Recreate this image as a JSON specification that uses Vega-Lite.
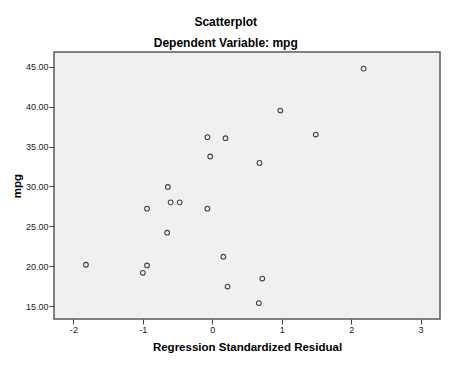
{
  "$schema": "https://vega.github.io/schema/vega-lite/v6.json",
  "width": 386,
  "height": 267,
  "autosize": "none",
  "padding": {"left": 54, "top": 52, "right": 34, "bottom": 49},
  "background": "white",
  "config": {
    "font": "Liberation Sans",
    "view": {"fill": "#f0f0f0", "stroke": "#5a5a5a", "strokeWidth": 1.5}
  },
  "title": {
    "text": "Scatterplot",
    "subtitle": "Dependent Variable: mpg",
    "anchor": "middle",
    "frame": "bounds",
    "fontSize": 12,
    "fontWeight": "bold",
    "color": "#000000",
    "subtitleFontSize": 12,
    "subtitleFontWeight": "bold",
    "subtitleColor": "#000000",
    "subtitlePadding": 9,
    "offset": 2
  },
  "data": {
    "values": [
      {"resid": 2.18, "mpg": 44.75},
      {"resid": 0.98, "mpg": 39.5},
      {"resid": 1.49, "mpg": 36.5},
      {"resid": 0.68, "mpg": 32.95},
      {"resid": 0.72, "mpg": 18.47},
      {"resid": 0.67, "mpg": 15.4},
      {"resid": -0.07, "mpg": 36.17},
      {"resid": 0.19, "mpg": 36.04},
      {"resid": -0.03, "mpg": 33.75},
      {"resid": -0.64, "mpg": 29.94},
      {"resid": -0.6, "mpg": 28.01},
      {"resid": -0.47, "mpg": 28.01},
      {"resid": -0.94, "mpg": 27.22},
      {"resid": -0.07, "mpg": 27.22},
      {"resid": -0.65, "mpg": 24.21},
      {"resid": 0.16, "mpg": 21.2},
      {"resid": -1.82, "mpg": 20.2},
      {"resid": -0.94, "mpg": 20.11},
      {"resid": -1.0, "mpg": 19.19},
      {"resid": 0.22, "mpg": 17.47}
    ]
  },
  "mark": {"type": "point", "shape": "circle", "filled": false, "size": 22, "stroke": "#404040", "strokeWidth": 1.1, "opacity": 1},
  "encoding": {
    "x": {
      "field": "resid",
      "type": "quantitative",
      "scale": {"domain": [-2.28, 3.28], "nice": false, "zero": false},
      "axis": {
        "title": "Regression Standardized Residual",
        "values": [-2, -1, 0, 1, 2, 3],
        "labelExpr": "'' + datum.value",
        "grid": false,
        "domain": false,
        "tickSize": 5,
        "tickColor": "#404040",
        "labelFontSize": 9,
        "labelColor": "#202020",
        "labelPadding": 1,
        "titleFontSize": 11.5,
        "titleFontWeight": "bold",
        "titleColor": "#000000",
        "titlePadding": 7
      }
    },
    "y": {
      "field": "mpg",
      "type": "quantitative",
      "scale": {"domain": [13.41, 46.83], "nice": false, "zero": false},
      "axis": {
        "title": "mpg",
        "values": [15, 20, 25, 30, 35, 40, 45],
        "format": ".2f",
        "grid": false,
        "domain": false,
        "tickSize": 5,
        "tickColor": "#404040",
        "labelFontSize": 9,
        "labelColor": "#202020",
        "labelPadding": 1,
        "titleFontSize": 11.5,
        "titleFontWeight": "bold",
        "titleColor": "#000000",
        "titlePadding": 3
      }
    }
  }
}
